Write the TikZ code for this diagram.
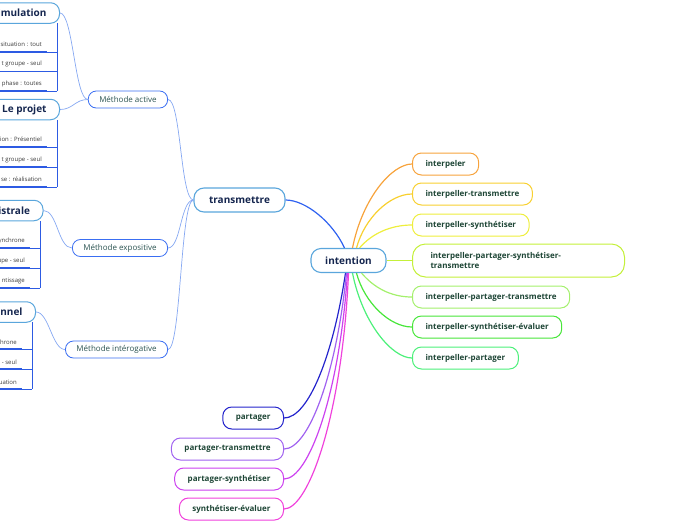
\documentclass[tikz,border=0pt]{standalone}
\usepackage{fontspec}
\setmainfont{Open Sans}
\usepackage{tikz}
\usetikzlibrary{calc}
\usepackage{xcolor}
\definecolor{navytext}{HTML}{15264F}
\definecolor{greentext}{HTML}{1E4636}
\definecolor{tealtext}{HTML}{2C5452}
\definecolor{itemgray}{HTML}{3A3A3A}
\definecolor{skyline}{HTML}{5AA6DC}
\definecolor{methblue}{HTML}{3A6EF2}
\definecolor{paleblue}{HTML}{86A8F2}
\definecolor{itemblue}{HTML}{2D5BE3}
\definecolor{mainblue}{HTML}{2F62F0}
\definecolor{orangeline}{HTML}{F7A33C}
\definecolor{goldline}{HTML}{F8D030}
\definecolor{yellowline}{HTML}{EEEE3C}
\definecolor{limeline}{HTML}{C4F03A}
\definecolor{lightgreenline}{HTML}{A4F06C}
\definecolor{greenline}{HTML}{48E63A}
\definecolor{mintline}{HTML}{4CF07A}
\definecolor{shareblue}{HTML}{2424CC}
\definecolor{purpleline}{HTML}{A062F0}
\definecolor{violetline}{HTML}{CC42F0}
\definecolor{pinkline}{HTML}{F042DC}
\tikzset{
    centerbox/.style={rectangle, rounded corners=10pt, draw=skyline, line width=1.1pt, fill=white, font=\bfseries\fontsize{10}{12}\selectfont, text=navytext, minimum height=24pt, inner xsep=2pt},
    topicbox/.style={rectangle, rounded corners=9pt, draw=skyline, line width=1pt, fill=white, font=\bfseries\fontsize{10}{12}\selectfont, text=navytext, minimum height=20.5pt, inner xsep=13pt},
    methbox/.style={rectangle, rounded corners=8pt, draw=methblue, line width=0.8pt, fill=white, font=\fontsize{8}{10}\selectfont, text=tealtext, minimum height=17pt, inner xsep=11pt},
    intentbox/.style={rectangle, rounded corners=9pt, draw=#1, line width=1pt, fill=white, font=\bfseries\fontsize{8}{10}\selectfont, text=greentext, minimum height=22pt, inner xsep=13pt},
    itemtext/.style={font=\fontsize{6}{7}\selectfont, text=itemgray, inner sep=0pt},
    itembar/.style={draw=itemblue, line width=1.3pt},
    itemrule/.style={draw=itemblue, line width=0.6pt},
    mainlink/.style={draw=mainblue, line width=1.2pt},
    colorlink/.style={draw=#1, line width=1.2pt},
    methlink/.style={draw=paleblue, line width=0.7pt}
}
\begin{document}
\begin{tikzpicture}[x=1pt, y=-1pt]
    \useasboundingbox (0,0) rectangle (696,520);
    \clip (0,0) rectangle (696,520);

    % centre and main branch
    \node[centerbox, minimum width=75pt] (intention) at (348.5,260.5) {intention};
    \node[centerbox, minimum width=91pt] (transmettre) at (239.5,200) {transmettre};

    % right branches
    \node[intentbox=orangeline, anchor=west] (interpeler) at (412,164) {interpeler};
    \node[intentbox=goldline, anchor=west] (intertrans) at (412,194) {interpeller-transmettre};
    \node[intentbox=yellowline, anchor=west] (intersynth) at (412,225) {interpeller-synthétiser};
    \node[intentbox=limeline, anchor=west, minimum width=212pt, minimum height=33pt, rounded corners=13pt, inner xsep=18pt, align=left, text width=176pt] (interpartsynth) at (412,260.5) {interpeller-partager-synthétiser-\\transmettre};
    \node[intentbox=lightgreenline, anchor=west] (interparttrans) at (412,297) {interpeller-partager-transmettre};
    \node[intentbox=greenline, anchor=west] (intersynteval) at (412,327) {interpeller-synthétiser-évaluer};
    \node[intentbox=mintline, anchor=west] (interpart) at (412,358) {interpeller-partager};

    % bottom branches
    \node[intentbox=shareblue, anchor=east] (partager) at (284,418) {partager};
    \node[intentbox=purpleline, anchor=east] (parttrans) at (284,449) {partager-transmettre};
    \node[intentbox=violetline, anchor=east] (partsynth) at (284,479) {partager-synthétiser};
    \node[intentbox=pinkline, anchor=east] (syntheval) at (284,509) {synthétiser-évaluer};

    % methods
    \node[methbox, anchor=east] (active) at (168,99.5) {Méthode active};
    \node[methbox, anchor=east] (expositive) at (168,248) {Méthode expositive};
    \node[methbox, anchor=east] (interogative) at (168,349.5) {Méthode intérogative};

    % topics cut by the left edge
    \node[topicbox, anchor=east] (simu) at (60,13) {imulation};
    \node[topicbox, anchor=east] (projet) at (60,109.5) {Le projet};
    \node[topicbox, anchor=east] (magis) at (43.5,210.5) {istrale};
    \node[topicbox, anchor=east] (personnel) at (36,312) {onnel};

    % items under each topic
    \foreach \ty/\uy/\txt [count=\i] in {44/52/situation : tout, 64/71.5/t groupe - seul, 84/91/phase : toutes}{
        \node[itemtext, anchor=east] (simu-\i) at (42,\ty) {\txt};
        \draw[itembar] (-2,\uy) -- (47,\uy);
        \draw[itemrule] (47,\uy) -- (57,\uy);
    }
    \draw[itemrule] (57,23) -- (57,91);
    \foreach \ty/\uy/\txt [count=\i] in {139/147/ion : Présentiel, 159.5/167/t groupe - seul, 179.5/187/se : réalisation}{
        \node[itemtext, anchor=east] (projet-\i) at (42,\ty) {\txt};
        \draw[itembar] (-2,\uy) -- (47,\uy);
        \draw[itemrule] (47,\uy) -- (57,\uy);
    }
    \draw[itemrule] (57,120) -- (57,187);
    \foreach \ty/\uy/\txt [count=\i] in {241/248/ynchrone, 261/268/upe - seul, 281/288/ntissage}{
        \node[itemtext, anchor=east] (magis-\i) at (25,\ty) {\txt};
        \draw[itembar] (-2,\uy) -- (30,\uy);
        \draw[itemrule] (30,\uy) -- (40,\uy);
    }
    \draw[itemrule] (40,221) -- (40,288);
    \foreach \ty/\uy/\txt [count=\i] in {342/349/chrone, 362/369/- seul, 382/389/uation}{
        \node[itemtext, anchor=east] (personnel-\i) at (17,\ty) {\txt};
        \draw[itembar] (-2,\uy) -- (22,\uy);
        \draw[itemrule] (22,\uy) -- (32,\uy);
    }
    \draw[itemrule] (32,322) -- (32,389);

    % links from the centre
    \draw[mainlink] ([xshift=-4pt]intention.north) .. controls +(-12,-26) and +(20,0) .. (transmettre.east);
    \draw[colorlink=orangeline] ([xshift=4pt]intention.north) .. controls +(10,-50) and +(-20,0) .. (interpeler.west);
    \draw[colorlink=goldline] ([xshift=8pt]intention.north) .. controls +(8,-30) and +(-22,0) .. (intertrans.west);
    \draw[colorlink=yellowline] ([xshift=11pt]intention.north) .. controls +(12,-14) and +(-22,0) .. (intersynth.west);
    \draw[colorlink=limeline] (intention.east) -- (interpartsynth.west);
    \draw[colorlink=lightgreenline] ([xshift=13pt]intention.south) .. controls +(12,14) and +(-22,0) .. (interparttrans.west);
    \draw[colorlink=greenline] ([xshift=8pt]intention.south) .. controls +(8,30) and +(-22,0) .. (intersynteval.west);
    \draw[colorlink=mintline] ([xshift=4pt]intention.south) .. controls +(10,50) and +(-20,0) .. (interpart.west);
    \draw[colorlink=shareblue] ([xshift=-3pt]intention.south) .. controls +(-12,80) and +(25,0) .. (partager.east);
    \draw[colorlink=purpleline] ([xshift=-2pt]intention.south) .. controls +(-10,100) and +(25,0) .. (parttrans.east);
    \draw[colorlink=violetline] ([xshift=-1pt]intention.south) .. controls +(-8,120) and +(25,0) .. (partsynth.east);
    \draw[colorlink=pinkline] (intention.south) .. controls +(-6,140) and +(25,0) .. (syntheval.east);

    % links to the methods and topics
    \draw[methlink] (transmettre.west) .. controls +(-13,0) and +(13,0) .. (active.east);
    \draw[methlink] (transmettre.west) .. controls +(-13,0) and +(13,0) .. (expositive.east);
    \draw[methlink] (transmettre.west) .. controls +(-13,0) and +(13,0) .. (interogative.east);
    \draw[methlink] (active.west) .. controls +(-13,0) and +(13,0) .. (simu.east);
    \draw[methlink] (active.west) .. controls +(-13,0) and +(13,0) .. (projet.east);
    \draw[methlink] (expositive.west) .. controls +(-14,0) and +(14,0) .. (magis.east);
    \draw[methlink] (interogative.west) .. controls +(-13,0) and +(13,0) .. (personnel.east);
\end{tikzpicture}
\end{document}
